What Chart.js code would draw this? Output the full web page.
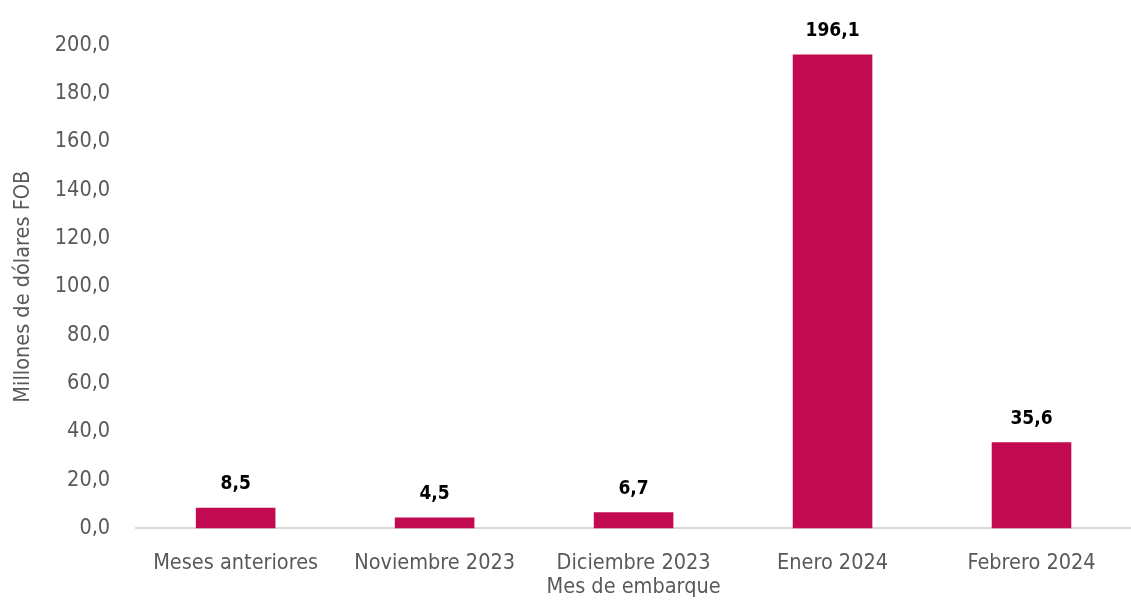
<!DOCTYPE html>
<html>
<head>
<meta charset="utf-8">
<script src="https://cdn.jsdelivr.net/npm/chart.js@4"></script>
<style>
  body { margin: 0; background: #fff; }
  #wrap { width: 1131px; height: 600px; }
</style>
</head>
<body>
<div id="wrap"><canvas id="myChart"></canvas></div>
<script>
// datos del grafico
const labels = ['Meses anteriores', 'Noviembre 2023', 'Diciembre 2023', 'Enero 2024', 'Febrero 2024'];
const valores = [8.5, 4.5, 6.7, 196.1, 35.6];

const fmt = v => v.toFixed(1).replace('.', ',');
const fuente = '"DejaVu Sans Condensed", "DejaVu Sans"';

// etiquetas encima de cada barra
const valueLabels = {
    id: 'valueLabels',
    afterDatasetsDraw(chart) {
        const ctx = chart.ctx;
        const meta = chart.getDatasetMeta(0);
        ctx.save();
        ctx.font = 'bold 19px ' + fuente;
        ctx.fillStyle = '#000';
        ctx.textAlign = 'center';
        ctx.textBaseline = 'bottom';
        meta.data.forEach((bar, i) => {
            ctx.fillText(fmt(valores[i]), bar.x, bar.y - 14);
        });
        ctx.restore();
    }
};

const data = {
    labels: labels,
    datasets: [{
        data: valores,
        backgroundColor: '#C20A50',
        barPercentage: 0.4,
        categoryPercentage: 1.0
    }]
};

const config = {
    type: 'bar',
    data: data,
    plugins: [valueLabels],
    options: {
        responsive: true,
        maintainAspectRatio: false,
        animation: false,
        layout: { padding: { top: 45, right: 0, left: 11, bottom: 0 } },
        plugins: {
            legend: { display: false },
            tooltip: { enabled: false }
        },
        scales: {
            x: {
                grid: { display: false, drawTicks: false },
                border: { color: '#d9d9d9', width: 2 },
                ticks: {
                    color: '#595959',
                    font: { family: fuente, size: 21.5 },
                    padding: 22
                },
                title: {
                    display: true,
                    text: 'Mes de embarque',
                    color: '#595959',
                    font: { family: fuente, size: 21.5 },
                    padding: { top: -24, bottom: 0 }
                }
            },
            y: {
                min: 0,
                max: 200,
                grid: { display: false, drawTicks: false },
                border: { display: false },
                ticks: {
                    stepSize: 20,
                    color: '#595959',
                    font: { family: fuente, size: 21.5 },
                    padding: 26,
                    callback: v => fmt(v)
                },
                title: {
                    display: true,
                    text: 'Millones de dólares FOB',
                    color: '#595959',
                    font: { family: fuente, size: 21.5 },
                    padding: { top: 0, bottom: -8 }
                }
            }
        }
    }
};

const chart = new Chart(document.getElementById('myChart'), config);
</script>
</body>
</html>
